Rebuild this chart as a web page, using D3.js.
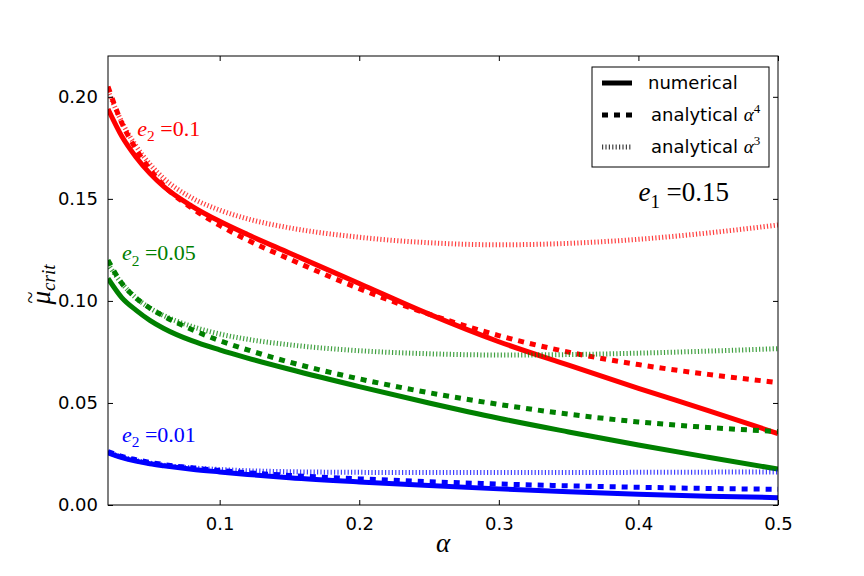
<!DOCTYPE html>
<html>
<head>
<meta charset="utf-8">
<script src="https://cdn.jsdelivr.net/npm/d3@7"></script>
<style>
  body { margin: 0; background: #fff; }
  svg { display: block; }
  .tick text { font-family: "DejaVu Sans", sans-serif; }
</style>
</head>
<body>
<div id="chart"></div>
<script>
// alpha values (x) shared by every curve
const alphas = [0.02, 0.03, 0.04, 0.05, 0.06, 0.08, 0.1, 0.12, 0.15, 0.2, 0.25, 0.3, 0.35, 0.4, 0.45, 0.5]

// e2 = 0.1
const num_01 = [0.194, 0.1805, 0.1705, 0.1625, 0.156, 0.1465, 0.139, 0.1325, 0.1235, 0.1085, 0.0935, 0.080, 0.0685, 0.0572, 0.0462, 0.035]
const a4_01 = [0.205, 0.187, 0.1745, 0.1645, 0.1565, 0.1455, 0.137, 0.1298, 0.1205, 0.106, 0.0935, 0.083, 0.0749, 0.0688, 0.064, 0.060]
const a3_01 = [0.203, 0.1875, 0.176, 0.167, 0.160, 0.1505, 0.1445, 0.1402, 0.1358, 0.1312, 0.1285, 0.1275, 0.1282, 0.1302, 0.1333, 0.1372]
// e2 = 0.05
const num_005 = [0.111, 0.1015, 0.0955, 0.0905, 0.0865, 0.0805, 0.076, 0.072, 0.0665, 0.058, 0.050, 0.0425, 0.0358, 0.0294, 0.0234, 0.0176]
const a4_005 = [0.120, 0.1085, 0.1015, 0.0965, 0.0925, 0.086, 0.0805, 0.076, 0.070, 0.0618, 0.055, 0.0493, 0.0445, 0.0407, 0.038, 0.036]
const a3_005 = [0.118, 0.1085, 0.1015, 0.0965, 0.0928, 0.0875, 0.0838, 0.0812, 0.0785, 0.0756, 0.0741, 0.0735, 0.0737, 0.0744, 0.0754, 0.0766]
// e2 = 0.01
const num_001 = [0.0255, 0.0232, 0.0215, 0.0202, 0.0192, 0.0175, 0.0162, 0.0150, 0.0134, 0.0113, 0.0095, 0.0079, 0.0065, 0.0053, 0.0043, 0.0036]
const a4_001 = [0.0262, 0.0238, 0.0222, 0.0209, 0.0198, 0.0182, 0.0169, 0.0158, 0.0145, 0.0128, 0.0114, 0.0103, 0.0094, 0.0087, 0.0081, 0.0077]
const a3_001 = [0.0258, 0.0235, 0.0218, 0.0205, 0.0195, 0.0182, 0.0174, 0.0168, 0.0163, 0.0160, 0.0159, 0.0159, 0.0159, 0.0160, 0.0161, 0.0162]

const xTicks = [0.1, 0.2, 0.3, 0.4, 0.5]
const yTicks = [0, 0.05, 0.10, 0.15, 0.20]

const series = [
  {vals: num_01, color: 'red', style: 'solid'},
  {vals: a4_01, color: 'red', style: 'dashed'},
  {vals: a3_01, color: 'red', style: 'dotted'},
  {vals: num_005, color: 'green', style: 'solid'},
  {vals: a4_005, color: 'green', style: 'dashed'},
  {vals: a3_005, color: 'green', style: 'dotted'},
  {vals: num_001, color: 'blue', style: 'solid'},
  {vals: a4_001, color: 'blue', style: 'dashed'},
  {vals: a3_001, color: 'blue', style: 'dotted'}
]

const W = 864, H = 576
const margin = {top: 56, right: 86, bottom: 71, left: 108}
const width = W - margin.left - margin.right
const height = H - margin.top - margin.bottom

const svg = d3.select('#chart').append('svg')
  .attr('width', W).attr('height', H)

const g = svg.append('g')
  .attr('transform', 'translate(' + margin.left + ',' + margin.top + ')')

const x = d3.scaleLinear().domain([0.02, 0.5]).range([0, width])
const y = d3.scaleLinear().domain([0, 0.22]).range([height, 0])

const dash = {solid: null, dashed: '6,6', dotted: '1.2,2.2'}
const opac = {solid: 1, dashed: 1, dotted: 0.75}

g.append('clipPath').attr('id', 'clip')
  .append('rect').attr('width', width).attr('height', height)

const line = d3.line()
  .x((d, i) => x(alphas[i]))
  .y(d => y(d))
  .curve(d3.curveMonotoneX)

g.append('g').attr('clip-path', 'url(#clip)')
  .selectAll('path').data(series).enter().append('path')
  .attr('d', d => line(d.vals))
  .attr('fill', 'none')
  .attr('stroke', d => d.color)
  .attr('stroke-width', 5)
  .attr('stroke-dasharray', d => dash[d.style])
  .attr('stroke-opacity', d => opac[d.style])

// axes, ticks inside on all four sides
const tl = 5
g.append('g').attr('transform', 'translate(0,' + height + ')')
  .call(d3.axisBottom(x).tickValues(xTicks).tickSizeInner(-tl).tickSizeOuter(0).tickPadding(12).tickFormat(d3.format('.1f')))
  .call(a => a.select('.domain').remove())
  .call(a => a.selectAll('text').attr('font-size', 18).attr('fill', '#000'))
g.append('g')
  .call(d3.axisTop(x).tickValues(xTicks).tickSizeInner(-tl).tickSizeOuter(0).tickFormat(''))
  .call(a => a.select('.domain').remove())
g.append('g')
  .call(d3.axisLeft(y).tickValues(yTicks).tickSizeInner(-tl).tickSizeOuter(0).tickPadding(10).tickFormat(d3.format('.2f')))
  .call(a => a.select('.domain').remove())
  .call(a => a.selectAll('text').attr('font-size', 18).attr('fill', '#000'))
g.append('g').attr('transform', 'translate(' + width + ',0)')
  .call(d3.axisRight(y).tickValues(yTicks).tickSizeInner(-tl).tickSizeOuter(0).tickFormat(''))
  .call(a => a.select('.domain').remove())

g.append('rect')
  .attr('width', width).attr('height', height)
  .attr('fill', 'none').attr('stroke', '#000').attr('stroke-width', 1)

// axis labels
const serif = '"Liberation Serif", "DejaVu Serif", serif'
svg.append('text')
  .attr('x', margin.left + width / 2).attr('y', 552)
  .attr('text-anchor', 'middle')
  .attr('font-family', serif).attr('font-style', 'italic').attr('font-size', 27)
  .text('α')

const yl = svg.append('g')
  .attr('transform', 'translate(50,' + (margin.top + height / 2) + ') rotate(-90)')
  .attr('font-family', serif).attr('font-style', 'italic')
const ylt = yl.append('text').attr('x', -24).attr('y', 0).attr('font-size', 27)
ylt.append('tspan').text('μ')
ylt.append('tspan').attr('font-size', 19).attr('dy', 5).text('crit')
yl.append('text').attr('x', -17).attr('y', -13).attr('font-size', 22)
  .attr('text-anchor', 'middle').attr('font-style', 'normal').text('~')

// curve annotations
function mathLabel(px, py, sub, val, color, size) {
  const t = g.append('text')
    .attr('x', px).attr('y', py)
    .attr('font-family', serif).attr('font-size', size).attr('fill', color)
  t.append('tspan').attr('font-style', 'italic').text('e')
  t.append('tspan').attr('font-size', size * 0.7).attr('dy', size * 0.25).text(sub)
  t.append('tspan').attr('dy', -size * 0.25).text(' =' + val)
}
mathLabel(x(0.041), y(0.181), '2', '0.1', 'red', 22)
mathLabel(x(0.030), y(0.120), '2', '0.05', 'green', 22)
mathLabel(x(0.030), y(0.031), '2', '0.01', 'blue', 22)
mathLabel(x(0.40), y(0.149), '1', '0.15', '#000', 27)

// legend
const legendItems = [
  {label: 'numerical', sup: null, style: 'solid'},
  {label: 'analytical ', sup: '4', style: 'dashed'},
  {label: 'analytical ', sup: '3', style: 'dotted'}
]
const legend = svg.append('g').attr('transform', 'translate(592,67)')
legend.append('rect')
  .attr('width', 177).attr('height', 100)
  .attr('fill', '#fff').attr('stroke', '#000').attr('stroke-width', 1)
const li = legend.selectAll('g.item').data(legendItems).enter().append('g')
  .attr('class', 'item')
  .attr('transform', (d, i) => 'translate(0,' + (16 + i * 32) + ')')
li.append('line')
  .attr('x1', 10).attr('x2', 40).attr('y1', 0).attr('y2', 0)
  .attr('stroke', '#000').attr('stroke-width', 5)
  .attr('stroke-dasharray', d => dash[d.style])
  .attr('stroke-opacity', d => opac[d.style])
const lt = li.append('text')
  .attr('x', (d, i) => i === 0 ? 56 : 59).attr('y', 6)
  .attr('font-family', '"DejaVu Sans", sans-serif').attr('font-size', 18)
lt.append('tspan').text(d => d.label)
lt.filter(d => d.sup).append('tspan')
  .attr('font-family', serif).attr('font-style', 'italic').attr('font-size', 19).text('α')
lt.filter(d => d.sup).append('tspan')
  .attr('font-family', serif).attr('font-size', 13).attr('dy', -8).text(d => d.sup)
</script>
</body>
</html>
